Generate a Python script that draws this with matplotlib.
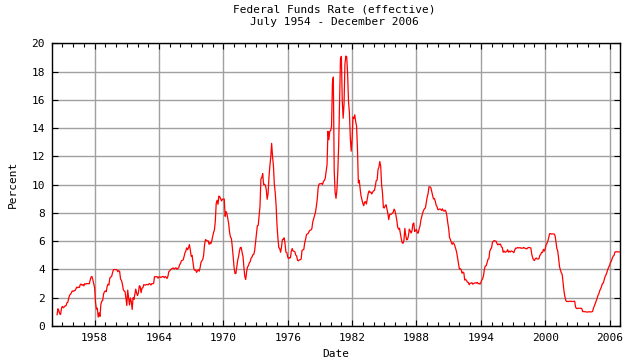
import numpy as np
import matplotlib
matplotlib.use("Agg")
import matplotlib.pyplot as plt
from matplotlib.ticker import MultipleLocator, FixedLocator

# --- Datos: tasa efectiva de fondos federales, mensual (julio 1954 - dic 2006) ---
START_YEAR = 1954
START_MONTH = 7

rates_1950s = [
    0.80, 1.22, 1.07, 0.85, 0.83, 1.28,                                # 1954 (jul-dic)
    1.39, 1.29, 1.35, 1.43, 1.43, 1.64, 1.68, 1.96, 2.18, 2.24, 2.35, 2.48,  # 1955
    2.45, 2.50, 2.50, 2.62, 2.75, 2.71, 2.75, 2.73, 2.95, 2.96, 2.88, 2.94,  # 1956
    2.84, 3.00, 2.96, 3.00, 3.00, 3.00, 2.99, 3.24, 3.47, 3.50, 3.28, 2.98,  # 1957
    2.72, 1.67, 1.20, 1.26, 0.63, 0.93, 0.68, 1.53, 1.76, 1.80, 2.27, 2.42,  # 1958
    2.48, 2.43, 2.80, 2.96, 2.90, 3.39, 3.47, 3.50, 3.76, 3.98, 4.00, 3.99,  # 1959
]
rates_1960s = [
    3.99, 3.97, 3.84, 3.92, 3.85, 3.32, 3.23, 2.98, 2.60, 2.47, 2.44, 1.98,  # 1960
    1.45, 2.54, 2.02, 1.49, 1.98, 1.73, 1.17, 2.00, 1.88, 2.26, 2.61, 2.33,  # 1961
    2.15, 2.37, 2.85, 2.78, 2.36, 2.68, 2.71, 2.93, 2.90, 2.90, 2.94, 2.93,  # 1962
    2.92, 3.00, 2.98, 2.90, 3.00, 2.99, 3.02, 3.49, 3.48, 3.50, 3.48, 3.38,  # 1963
    3.48, 3.48, 3.43, 3.47, 3.50, 3.50, 3.42, 3.50, 3.45, 3.36, 3.52, 3.85,  # 1964
    3.90, 3.98, 4.04, 4.09, 4.10, 4.04, 4.09, 4.12, 4.01, 4.08, 4.10, 4.32,  # 1965
    4.42, 4.60, 4.65, 4.67, 4.90, 5.17, 5.30, 5.53, 5.40, 5.53, 5.76, 5.40,  # 1966
    4.94, 5.00, 4.53, 4.05, 3.94, 3.98, 3.79, 3.90, 3.99, 3.88, 4.13, 4.51,  # 1967
    4.61, 4.71, 5.05, 5.76, 6.11, 6.07, 6.02, 6.03, 5.78, 5.91, 5.82, 6.02,  # 1968
    6.30, 6.61, 6.79, 7.41, 8.67, 8.90, 8.61, 9.19, 9.15, 9.00, 8.85, 8.97,  # 1969
]
rates_1970s = [
    8.98, 8.98, 7.76, 8.10, 7.94, 7.60, 7.21, 6.61, 6.29, 6.20, 5.60, 4.90,  # 1970
    4.14, 3.72, 3.71, 4.16, 4.63, 4.91, 5.31, 5.56, 5.55, 5.20, 4.91, 4.14,  # 1971
    3.50, 3.29, 3.83, 4.17, 4.27, 4.46, 4.55, 4.80, 4.87, 5.04, 5.06, 5.33,  # 1972
    5.94, 6.58, 7.09, 7.12, 7.84, 8.49, 10.40, 10.50, 10.78, 10.01, 10.03, 9.95,  # 1973
    9.65, 8.97, 9.35, 10.51, 11.31, 11.93, 12.92, 12.01, 11.34, 10.06, 9.45, 8.53,  # 1974
    7.13, 6.24, 5.54, 5.49, 5.22, 5.55, 6.10, 6.14, 6.24, 5.82, 5.22, 5.20,  # 1975
    4.87, 4.77, 4.84, 4.82, 5.29, 5.48, 5.31, 5.29, 5.25, 5.02, 4.95, 4.65,  # 1976
    4.61, 4.68, 4.69, 4.73, 5.35, 5.39, 5.42, 5.90, 6.14, 6.47, 6.51, 6.56,  # 1977
    6.70, 6.78, 6.79, 6.89, 7.36, 7.60, 7.81, 8.04, 8.45, 8.96, 9.76, 10.03,  # 1978
    10.07, 10.06, 10.09, 10.01, 10.24, 10.29, 10.47, 10.94, 11.43, 13.77, 13.18, 13.78,  # 1979
]
rates_1980s = [
    13.82, 14.13, 17.19, 17.61, 10.98, 9.47, 9.03, 9.61, 10.87, 12.81, 15.85, 18.90,  # 1980
    19.08, 15.93, 14.70, 15.72, 18.52, 19.10, 19.04, 17.82, 15.87, 15.08, 13.31, 12.37,  # 1981
    13.22, 14.78, 14.68, 14.94, 14.45, 14.15, 12.59, 10.12, 10.31, 9.71, 9.20, 8.95,  # 1982
    8.68, 8.51, 8.77, 8.80, 8.63, 8.98, 9.37, 9.56, 9.45, 9.48, 9.34, 9.47,  # 1983
    9.56, 9.59, 9.91, 10.29, 10.32, 11.06, 11.23, 11.64, 11.30, 9.99, 9.43, 8.38,  # 1984
    8.35, 8.50, 8.58, 8.27, 7.97, 7.53, 7.88, 7.90, 7.92, 7.99, 8.05, 8.27,  # 1985
    8.14, 7.86, 7.48, 6.99, 6.85, 6.92, 6.56, 6.17, 5.89, 5.85, 6.04, 6.91,  # 1986
    6.43, 6.10, 6.13, 6.37, 6.85, 6.73, 6.58, 6.73, 7.22, 7.29, 6.69, 6.77,  # 1987
    6.83, 6.58, 6.58, 6.87, 7.09, 7.51, 7.75, 8.01, 8.19, 8.30, 8.35, 8.76,  # 1988
    9.12, 9.36, 9.85, 9.84, 9.81, 9.53, 9.24, 8.99, 9.02, 8.84, 8.55, 8.45,  # 1989
]
rates_1990s = [
    8.23, 8.24, 8.28, 8.26, 8.18, 8.29, 8.15, 8.13, 8.20, 8.11, 7.81, 7.31,  # 1990
    6.91, 6.25, 6.12, 5.91, 5.78, 5.90, 5.82, 5.66, 5.45, 5.21, 4.81, 4.43,  # 1991
    4.03, 4.06, 3.98, 3.73, 3.82, 3.76, 3.25, 3.30, 3.22, 3.10, 3.09, 2.92,  # 1992
    3.02, 3.03, 3.07, 2.96, 3.00, 3.04, 3.06, 3.03, 3.09, 2.99, 3.02, 2.96,  # 1993
    3.05, 3.25, 3.34, 3.56, 4.01, 4.25, 4.26, 4.47, 4.73, 4.76, 5.29, 5.45,  # 1994
    5.53, 5.92, 5.98, 6.05, 6.01, 6.00, 5.85, 5.74, 5.80, 5.76, 5.80, 5.60,  # 1995
    5.56, 5.22, 5.31, 5.22, 5.24, 5.27, 5.40, 5.22, 5.30, 5.24, 5.31, 5.29,  # 1996
    5.25, 5.19, 5.39, 5.51, 5.50, 5.56, 5.52, 5.54, 5.54, 5.50, 5.52, 5.50,  # 1997
    5.56, 5.51, 5.49, 5.45, 5.49, 5.56, 5.54, 5.55, 5.51, 5.07, 4.83, 4.68,  # 1998
    4.63, 4.76, 4.81, 4.74, 4.74, 4.76, 4.99, 5.07, 5.22, 5.20, 5.42, 5.30,  # 1999
]
rates_2000s = [
    5.45, 5.73, 5.85, 6.02, 6.27, 6.53, 6.54, 6.50, 6.52, 6.51, 6.51, 6.40,  # 2000
    5.98, 5.49, 5.31, 4.80, 4.21, 3.97, 3.77, 3.65, 3.07, 2.49, 2.09, 1.82,  # 2001
    1.73, 1.74, 1.73, 1.75, 1.75, 1.75, 1.73, 1.74, 1.75, 1.75, 1.34, 1.24,  # 2002
    1.24, 1.26, 1.25, 1.26, 1.26, 1.22, 1.01, 1.03, 1.01, 1.01, 1.00, 0.98,  # 2003
    1.00, 1.01, 1.00, 1.00, 1.00, 1.03, 1.26, 1.43, 1.61, 1.76, 1.93, 2.16,  # 2004
    2.28, 2.50, 2.63, 2.79, 3.00, 3.04, 3.26, 3.50, 3.62, 3.78, 4.00, 4.16,  # 2005
    4.29, 4.49, 4.59, 4.79, 4.94, 4.99, 5.24, 5.25, 5.25, 5.25, 5.25, 5.24,  # 2006
]

major_years = [1958, 1964, 1970, 1976, 1982, 1988, 1994, 2000, 2006]
y_ticks = [0, 2, 4, 6, 8, 10, 12, 14, 16, 18, 20]

TITLE = "Federal Funds Rate (effective)\nJuly 1954 - December 2006"
FONT = "DejaVu Sans Mono"
FS = 8

# --- Serie completa y eje de tiempo en años decimales ---
rates = np.array(rates_1950s + rates_1960s + rates_1970s + rates_1980s
                 + rates_1990s + rates_2000s)
t = START_YEAR + (START_MONTH - 1) / 12 + np.arange(len(rates)) / 12

fig = plt.figure(figsize=(6.4, 3.6), dpi=100)
ax = fig.add_axes([0.0808, 0.0944, 0.9692 - 0.0808, 0.8797 - 0.0944])

ax.plot(t, rates, color="#ff0000", lw=0.9, zorder=3)

ax.set_xlim(1954, 2007)
ax.set_ylim(0, 20)

ax.xaxis.set_major_locator(FixedLocator(major_years))
ax.xaxis.set_minor_locator(MultipleLocator(1))
ax.set_xticklabels([str(y) for y in major_years], family=FONT, fontsize=FS)
ax.set_yticks(y_ticks)
ax.set_yticklabels([str(v) for v in y_ticks], family=FONT, fontsize=FS)

ax.grid(True, which="major", color="#a0a0a0", lw=1.0, zorder=1)
ax.tick_params(which="major", direction="in", length=4, width=0.8,
               top=True, right=True, pad=5, colors="black")
ax.tick_params(which="minor", direction="in", length=3, width=0.8,
               top=True, right=False, left=False)
for s in ax.spines.values():
    s.set_linewidth(1.0)
    s.set_color("black")

fig.text(0.523, 0.955, TITLE, ha="center", va="center", family=FONT,
         fontsize=FS, linespacing=1.3)
ax.set_xlabel("Date", family=FONT, fontsize=FS, labelpad=4)
ax.set_ylabel("Percent", family=FONT, fontsize=FS, labelpad=10)

fig.savefig("out.png", dpi=100)
